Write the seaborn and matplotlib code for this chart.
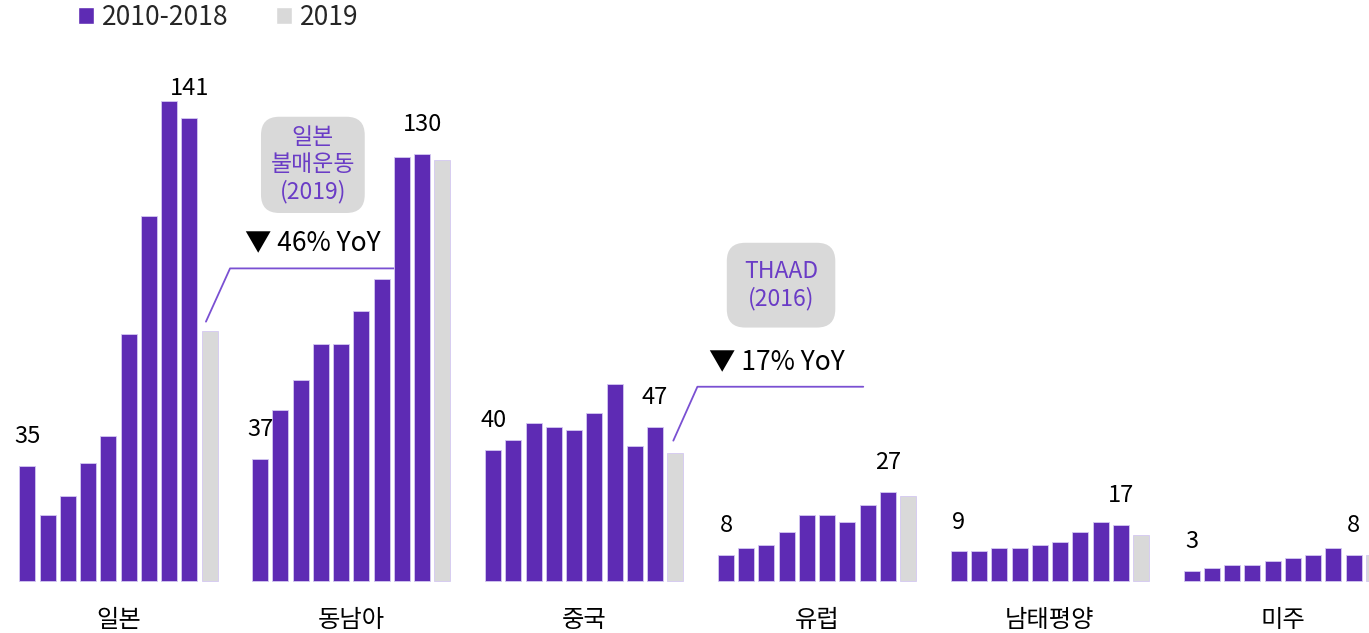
import pandas as pd
import matplotlib
matplotlib.use("Agg")
import matplotlib.pyplot as plt
import seaborn as sns
from matplotlib.patches import Patch

sns.set_theme(style="white")
plt.rcParams['font.family'] = ['Noto Sans CJK KR', 'DejaVu Sans']

# data
years = list(range(2010, 2020))
regions = ['일본', '동남아', '중국', '유럽', '남태평양', '미주']
japan = [35, 20, 26, 36, 44, 75, 111, 146, 141, 76]
se_asia = [37, 52, 61, 72, 72, 82, 92, 129, 130, 128]
china = [40, 43, 48, 47, 46, 51, 60, 41, 47, 39]
europe = [8, 10, 11, 15, 20, 20, 18, 23, 27, 26]
pacific = [9, 9, 10, 10, 11, 12, 15, 18, 17, 14]
americas = [3, 4, 5, 5, 6, 7, 8, 10, 8, 8]
series = [japan, se_asia, china, europe, pacific, americas]

PURPLE = '#5E2BB4'
GRAY = '#D9D9D9'
LINE = '#7A50D2'
TXT_PURPLE = '#6A3CC6'
group_step = 11.5

rows = []
for g, (reg, vals) in enumerate(zip(regions, series)):
    for i, (yr, v) in enumerate(zip(years, vals)):
        rows.append({'region': reg, 'year': yr, 'pos': g * group_step + i,
                     'value': v, 'period': '2019' if yr == 2019 else '2010-2018'})
df = pd.DataFrame(rows)

fig = plt.figure(figsize=(13.69, 6.33), dpi=100)
ax = fig.add_axes([0, 0, 1, 1])

sns.barplot(data=df, x='pos', y='value', hue='period', native_scale=True,
            dodge=False, width=0.79, errorbar=None, legend=False, saturation=1,
            palette={'2010-2018': PURPLE, '2019': GRAY},
            edgecolor='#D4C8F2', linewidth=0.6, ax=ax, zorder=3)

ax.set_xlim(-1.35, -1.35 + 1369 / 20.25)
ax.set_ylim(-52 / 3.287, 581 / 3.287)
ax.axis('off')

# value labels: first year and 2018
for g, vals in enumerate(series):
    for i in (0, 8):
        ax.annotate(str(vals[i]), (g * group_step + i, vals[i]),
                    xytext=(0, 16.5), textcoords='offset points',
                    ha='center', va='baseline', fontsize=17, color='black')

# region names
for g, reg in enumerate(regions):
    ax.text(g * group_step + 4.5, -11.9, reg, ha='center', va='center',
            fontsize=17.5, color='black')

# annotation boxes
ax.text(14.1, 126.6, '일본\n불매운동\n(2019)', ha='center', va='center',
        fontsize=16.5, color=TXT_PURPLE, linespacing=1.2, zorder=5,
        bbox=dict(boxstyle='round,pad=0.42,rounding_size=0.8', fc=GRAY, ec='none'))
ax.text(37.22, 90.0, 'THAAD\n(2016)', ha='center', va='center',
        fontsize=16.5, color=TXT_PURPLE, linespacing=1.2, zorder=5,
        bbox=dict(boxstyle='round,pad=0.75,rounding_size=0.8', fc=GRAY, ec='none'))

ax.text(14.09, 102.8, '▼ 46% YoY', ha='center', va='center', fontsize=19,
        color='black', zorder=5)
ax.text(37.0, 66.7, '▼ 17% YoY', ha='center', va='center', fontsize=19,
        color='black', zorder=5)

# leader lines from the 2019 bars
jx, jy = 9, japan[9]
ax.plot([jx - 0.18, jx + 1.01, 18.1], [jy + 2.9, 95.1, 95.1],
        color=LINE, lw=1.3, zorder=2)
cx, cy = 2 * group_step + 9, china[9]
ax.plot([cx - 0.1, cx + 1.09, 41.28], [cy + 3.7, 59.1, 59.1],
        color=LINE, lw=1.3, zorder=2)

# legend
handles = [Patch(facecolor=PURPLE, label='2010-2018'),
           Patch(facecolor=GRAY, label='2019')]
fig.legend(handles=handles, loc='upper left', bbox_to_anchor=(78 / 1369, 1 - 4 / 633),
           ncol=2, frameon=False, fontsize=19, handlelength=0.6, handleheight=0.6,
           handletextpad=0.3, columnspacing=1.8, borderpad=0, borderaxespad=0)

fig.savefig('out.png', dpi=100)
